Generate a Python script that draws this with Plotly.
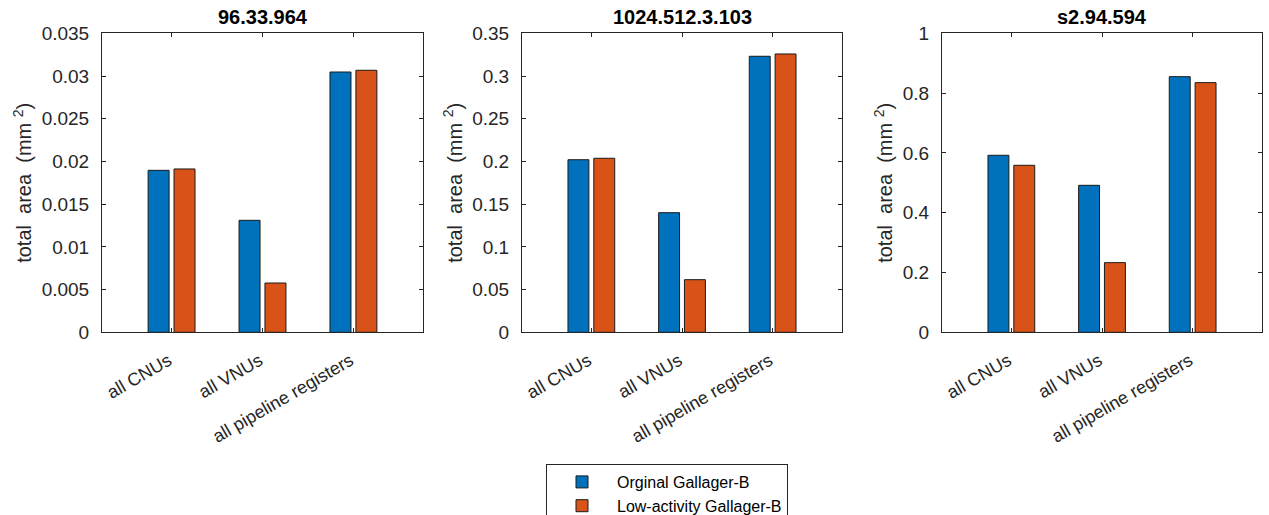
import plotly.graph_objects as go

# Component groups on the x axis
categories = ["all CNUs", "all VNUs", "all pipeline registers"]

# Panel titles (code identifiers)
titles = ["96.33.964", "1024.512.3.103", "s2.94.594"]

# Total area (mm^2) per component group, one list per code
orig_96 = [0.01896, 0.01311, 0.03047]
lowact_96 = [0.01912, 0.00577, 0.03067]

orig_1024 = [0.2020, 0.1400, 0.3231]
lowact_1024 = [0.2037, 0.0616, 0.3258]

orig_s2 = [0.592, 0.4916, 0.855]
lowact_s2 = [0.5585, 0.233, 0.835]

series_names = ["Orginal Gallager-B", "Low-activity Gallager-B"]

# y-axis ticks per panel
yticks_96 = [0, 0.005, 0.01, 0.015, 0.02, 0.025, 0.03, 0.035]
yticks_1024 = [0, 0.05, 0.1, 0.15, 0.2, 0.25, 0.3, 0.35]
yticks_s2 = [0, 0.2, 0.4, 0.6, 0.8, 1]

BLUE = "#0072BD"
ORANGE = "#D95319"
INK = "#262626"
FONT = "Liberation Sans, Arial, Helvetica, sans-serif"

W, H = 1269, 515
panels = [
    (orig_96, lowact_96, yticks_96, (102, 423)),
    (orig_1024, lowact_1024, yticks_1024, (522, 842)),
    (orig_s2, lowact_s2, yticks_s2, (942, 1262)),
]
y_dom = [1 - 332.3 / H, 1 - 33.3 / H]

fig = go.Figure()
annotations = []
for i, (orig, low, yt, (x0, x1)) in enumerate(panels):
    n = "" if i == 0 else str(i + 1)
    xa, ya = "x" + n, "y" + n
    for vals, color, name in ((orig, BLUE, series_names[0]), (low, ORANGE, series_names[1])):
        fig.add_trace(go.Bar(
            x=categories, y=vals, name=name, xaxis=xa, yaxis=ya,
            marker=dict(color=color, line=dict(color="#1a1a1a", width=1)),
            showlegend=(i == 1), legendgroup=name,
        ))
    axis_common = dict(
        showline=True, linecolor=INK, linewidth=1, mirror="ticks",
        ticks="inside", ticklen=4, tickcolor=INK, showgrid=False, zeroline=False,
    )
    fig.layout["xaxis" + n] = dict(
        axis_common, domain=[x0 / W, x1 / W], anchor=ya,
        type="category", range=[-0.765, 2.765], tickangle=-30,
        tickfont=dict(family=FONT, size=18, color=INK),
        ticklabelstandoff=10, ticklabelshift=-3,
    )
    fig.layout["yaxis" + n] = dict(
        axis_common, domain=y_dom, anchor=xa, range=[yt[0], yt[-1]],
        tickvals=yt, ticktext=[f"{v:g}" for v in yt],
        tickfont=dict(family=FONT, size=19, color=INK),
        ticklabelstandoff=8,
        title=dict(text="total  area  (mm <sup>2</sup>)", standoff=4,
                   font=dict(family=FONT, size=20, color=INK)),
    )
    annotations.append(dict(
        text=f"<b>{titles[i]}</b>", xref=xa + " domain", yref="paper",
        x=0.5, y=1 - 17 / H, xanchor="center", yanchor="middle", showarrow=False,
        font=dict(family=FONT, size=20, color="#000000"),
    ))

fig.update_layout(
    width=W, height=H, margin=dict(l=0, r=0, t=0, b=0, autoexpand=False),
    paper_bgcolor="white", plot_bgcolor="white",
    barmode="group", bargap=0.43, bargroupgap=0.19,
    annotations=annotations,
    legend=dict(
        x=546 / W, y=1 - 464 / H, xanchor="left", yanchor="top",
        bordercolor=INK, borderwidth=1, bgcolor="white",
        font=dict(family=FONT, size=16, color="#000000"),
        tracegroupgap=0, itemwidth=60,
    ),
    showlegend=True,
)

fig.write_html("out.html")
